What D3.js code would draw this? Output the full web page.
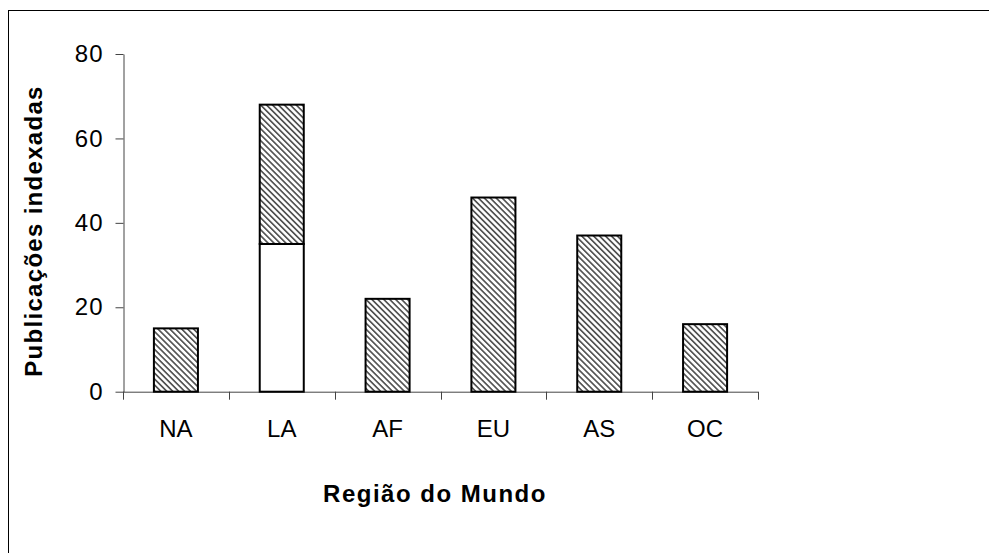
<!DOCTYPE html>
<html>
<head>
<meta charset="utf-8">
<title>Publicações indexadas</title>
<script src="https://d3js.org/d3.v7.min.js"></script>
<style>
    body { margin: 0; background: #fff; }
    text { font-family: Arial, "Liberation Sans", sans-serif; fill: #000; }
</style>
</head>
<body>
<svg id="chart" width="989" height="553"></svg>
<script>
    // data
    var regioes = ["NA", "LA", "AF", "EU", "AS", "OC"];
    var brancos = [0, 35, 0, 0, 0, 0];       // white part (LA only)
    var hachurados = [15, 33, 22, 46, 37, 16]; // hatched part
    var yTicks = [0, 20, 40, 60, 80];

    var svg = d3.select("#chart");

    // outer frame (only left and top fall inside the picture)
    svg.append("rect")
        .attr("x", 8.5).attr("y", 10.5)
        .attr("width", 1000).attr("height", 600)
        .attr("fill", "none").attr("stroke", "#000").attr("stroke-width", 1);

    var defs = svg.append("defs");
    var pat = defs.append("pattern")
        .attr("id", "hatch")
        .attr("patternUnits", "userSpaceOnUse")
        .attr("width", 4.2).attr("height", 4.2)
        .attr("patternTransform", "rotate(-45)");
    pat.append("rect").attr("width", 4.2).attr("height", 4.2).attr("fill", "#fff");
    pat.append("rect").attr("x", 0).attr("width", 1.7).attr("height", 4.2).attr("fill", "#555");

    var x = d3.scaleBand()
        .domain(regioes)
        .range([123, 758])
        .paddingInner(0.584)
        .paddingOuter(0.292);

    var y = d3.scaleLinear()
        .domain([0, 80])
        .range([391.7, 54]);

    // y axis
    var yAxis = d3.axisLeft(y).tickValues(yTicks).tickSize(8).tickSizeOuter(0).tickPadding(12);
    var gy = svg.append("g").attr("transform", "translate(123.5,0)").call(yAxis);
    gy.select(".domain").attr("stroke", "#444");
    gy.selectAll(".tick line").attr("stroke", "#444");
    gy.selectAll(".tick text")
        .attr("font-size", 24)
        .attr("letter-spacing", 1)
        .attr("font-family", "Arial, 'Liberation Sans', sans-serif");

    // x axis line and ticks at band boundaries
    var gx = svg.append("g");
    gx.append("line")
        .attr("x1", 123).attr("x2", 758)
        .attr("y1", y(0) + 0.5).attr("y2", y(0) + 0.5)
        .attr("stroke", "#444");
    var bounds = d3.range(regioes.length + 1).map(function(i){ return 123 + i * x.step(); });
    gx.selectAll(".xt").data(bounds).enter().append("line")
        .attr("x1", function(d){ return Math.round(d) + 0.5; })
        .attr("x2", function(d){ return Math.round(d) + 0.5; })
        .attr("y1", y(0)).attr("y2", y(0) + 8)
        .attr("stroke", "#444");
    gx.selectAll(".xl").data(regioes).enter().append("text")
        .attr("x", function(d){ return x(d) + x.bandwidth() / 2; })
        .attr("y", 437)
        .attr("text-anchor", "middle")
        .attr("font-size", 24)
        .text(function(d){ return d; });

    // bars
    var dados = regioes.map(function(r, i){
        return { r: r, b: brancos[i], h: hachurados[i] };
    });

    svg.selectAll(".branco").data(dados.filter(function(d){ return d.b > 0; }))
        .enter().append("rect")
        .attr("x", function(d){ return x(d.r); })
        .attr("y", function(d){ return y(d.b); })
        .attr("width", x.bandwidth())
        .attr("height", function(d){ return y(0) - y(d.b); })
        .attr("fill", "#fff").attr("stroke", "#000").attr("stroke-width", 2);

    svg.selectAll(".hach").data(dados)
        .enter().append("rect")
        .attr("x", function(d){ return x(d.r); })
        .attr("y", function(d){ return y(d.b + d.h); })
        .attr("width", x.bandwidth())
        .attr("height", function(d){ return y(d.b) - y(d.b + d.h); })
        .attr("fill", "url(#hatch)").attr("stroke", "#000").attr("stroke-width", 2);

    // titles
    svg.append("text")
        .attr("x", 435).attr("y", 502)
        .attr("text-anchor", "middle")
        .attr("font-size", 24).attr("font-weight", "bold")
        .attr("letter-spacing", 1.5)
        .text("Região do Mundo");

    svg.append("text")
        .attr("transform", "translate(42,231) rotate(-90)")
        .attr("text-anchor", "middle")
        .attr("font-size", 24).attr("font-weight", "bold")
        .attr("letter-spacing", 1.3)
        .text("Publicações indexadas");
</script>
</body>
</html>
